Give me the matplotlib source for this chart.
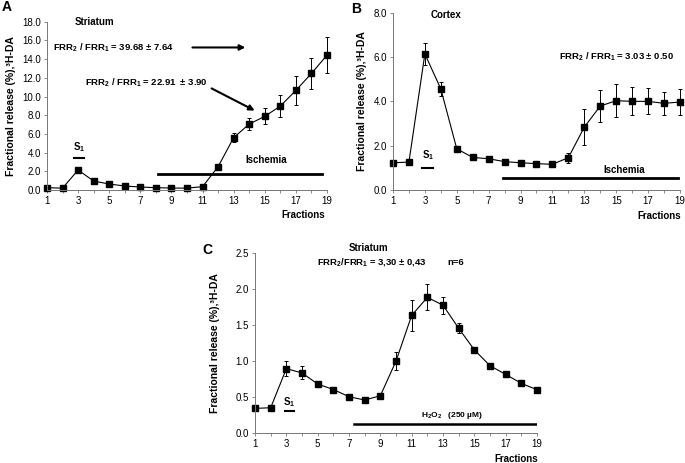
import matplotlib
matplotlib.use('Agg')
import matplotlib.pyplot as plt
import numpy as np

plt.rcParams['font.family'] = ['Liberation Sans', 'DejaVu Sans']
plt.rcParams['mathtext.fontset'] = 'custom'
plt.rcParams['mathtext.rm'] = 'Liberation Sans'
plt.rcParams['mathtext.bf'] = 'Liberation Sans:bold'
plt.rcParams['mathtext.it'] = 'Liberation Sans:italic'

fractions = np.arange(1, 20)

# Painel A - estriado, isquemia
a_mean = [0.25, 0.2, 2.14, 0.96, 0.64, 0.43, 0.32, 0.25, 0.21, 0.2, 0.36,
          2.5, 5.6, 7.06, 7.88, 8.98, 10.66, 12.47, 14.43]
a_err = [0.05, 0.05, 0.12, 0.08, 0.05, 0.04, 0.03, 0.03, 0.03, 0.03, 0.05,
         0.2, 0.5, 0.6, 0.85, 1.15, 1.55, 1.7, 1.95]

# Painel B - córtex, isquemia
b_mean = [1.23, 1.26, 6.14, 4.56, 1.86, 1.47, 1.41, 1.28, 1.23, 1.19, 1.16,
          1.46, 2.84, 3.79, 4.03, 4.0, 4.0, 3.91, 3.97]
b_err = [0.05, 0.05, 0.48, 0.33, 0.08, 0.06, 0.05, 0.05, 0.05, 0.05, 0.05,
         0.22, 0.8, 0.72, 0.74, 0.63, 0.59, 0.52, 0.57]

# Painel C - estriado, H2O2
c_mean = [0.338, 0.347, 0.89, 0.83, 0.676, 0.6, 0.5, 0.454, 0.514, 0.995, 1.63,
          1.88, 1.77, 1.45, 1.15, 0.93, 0.81, 0.685, 0.597]
c_err = [0.01, 0.01, 0.1, 0.09, 0.04, 0.03, 0.01, 0.01, 0.01, 0.12, 0.22,
         0.18, 0.12, 0.07, 0.03, 0.01, 0.01, 0.01, 0.01]

ylabel = 'Fractional release (%),³H-DA'
s1 = r'$\mathbf{S_1}$'

fig = plt.figure(figsize=(6.85, 4.63), dpi=100)
axA = fig.add_axes([0.0686, 0.5896, 0.4088, 0.3634])
axB = fig.add_axes([0.5737, 0.5896, 0.419, 0.383])
axC = fig.add_axes([0.3723, 0.0654, 0.4117, 0.3888])


def style(ax, mean, err, ymax, ystep, ylab_x):
    cont = ax.errorbar(fractions, mean, yerr=err, color='black', lw=0.8,
                       marker='s', markersize=4.3, capsize=1.6,
                       elinewidth=0.7, capthick=0.7)
    for art in cont.get_children():
        art.set_clip_on(False)
    ax.set_xlim(1, 19)
    ax.set_ylim(0, ymax)
    ax.set_xticks(fractions)
    ax.set_xticklabels([str(f) if f % 2 == 1 else '' for f in fractions])
    ax.set_yticks(np.arange(0, ymax + ystep / 2, ystep))
    ax.yaxis.set_major_formatter(matplotlib.ticker.FormatStrFormatter('%.1f'))
    for s in ['top', 'right']:
        ax.spines[s].set_visible(False)
    for s in ['left', 'bottom']:
        ax.spines[s].set_color('#777777')
        ax.spines[s].set_linewidth(0.7)
    ax.tick_params(labelsize=7, length=2.5, width=0.6, color='#777777',
                   pad=2)
    ax.set_ylabel(ylabel, fontsize=7.5, fontweight='bold')
    ax.yaxis.set_label_coords(ylab_x, 0.5)


style(axA, a_mean, a_err, 18, 2, -0.111)
style(axB, b_mean, b_err, 8, 2, -0.09)
style(axC, c_mean, c_err, 2.5, 0.5, -0.124)

# A
axA.plot([8.14, 18.68], [1.7, 1.7], color='black', lw=2)
axA.plot([2.76, 3.4], [3.39, 3.39], color='black', lw=1.5)
axA.text(3.08, 3.8, s1, fontsize=7, ha='center', va='bottom')
axA.text(15.1, 3.2, 'Ischemia', fontsize=7, fontweight='bold', ha='center', va='center')
axA.text(2.8, 18.0, 'Striatum', fontsize=7, fontweight='bold', ha='left', va='center')
axA.text(1.4, 15.25, r'FRR$_{\mathbf{2}}$ / FRR$_{\mathbf{1}}$ = 39.68 ± 7.64',
         fontsize=6.8, fontweight='bold', ha='left', va='center')
axA.annotate('', xy=(13.75, 15.25), xytext=(10.35, 15.25),
             arrowprops=dict(arrowstyle='-|>', lw=1.5, color='black',
                             mutation_scale=8, shrinkA=0, shrinkB=0))
axA.text(3.45, 11.5, r'FRR$_{\mathbf{2}}$ / FRR$_{\mathbf{1}}$ = 22.91  ± 3.90',
         fontsize=6.8, fontweight='bold', ha='left', va='center')
axA.annotate('', xy=(14.35, 8.5), xytext=(11.58, 10.87),
             arrowprops=dict(arrowstyle='-|>', lw=1.5, color='black',
                             mutation_scale=8, shrinkA=0, shrinkB=0))
axA.set_xlabel('Fractions', fontsize=7, fontweight='bold')
axA.xaxis.set_label_coords(0.914, -0.12)

# B
axB.plot([7.88, 18.9], [0.56, 0.56], color='black', lw=2)
axB.plot([2.85, 3.54], [1.0, 1.0], color='black', lw=1.5)
axB.text(3.2, 1.25, s1, fontsize=7, ha='center', va='bottom')
axB.text(15.5, 0.9, 'Ischemia', fontsize=7, fontweight='bold', ha='center', va='center')
axB.text(4.3, 7.88, 'Cortex', fontsize=7, fontweight='bold', ha='center', va='center')
axB.text(18.6, 6.0, r'FRR$_{\mathbf{2}}$ / FRR$_{\mathbf{1}}$ = 3.03 ± 0.50',
         fontsize=6.8, fontweight='bold', ha='right', va='center')
axB.set_xlabel('Fractions', fontsize=7, fontweight='bold')
axB.xaxis.set_label_coords(0.927, -0.12)

# C
axC.plot([7.33, 19.0], [0.116, 0.116], color='black', lw=1.8)
axC.plot([2.92, 3.49], [0.305, 0.305], color='black', lw=1.5)
axC.text(3.2, 0.33, s1, fontsize=7, ha='center', va='bottom')
axC.text(13.57, 0.236, r'H$_{\mathbf{2}}$O$_{\mathbf{2}}$   (250 µM)', fontsize=6,
         fontweight='bold', ha='center', va='center')
axC.text(8.25, 2.57, 'Striatum', fontsize=7, fontweight='bold', ha='center', va='center')
axC.text(8.45, 2.37, r'FRR$_{\mathbf{2}}$/FRR$_{\mathbf{1}}$ = 3,30 ± 0,43',
         fontsize=6.8, fontweight='bold', ha='center', va='center')
axC.text(13.8, 2.37, 'n=6', fontsize=6.8, fontweight='bold', ha='center', va='center')
axC.set_xlabel('Fractions', fontsize=7, fontweight='bold')
axC.xaxis.set_label_coords(0.925, -0.12)

# letras dos painéis
fig.text(7 / 685, 1 - 7 / 463, 'A', fontsize=10, fontweight='bold', ha='center', va='center')
fig.text(356 / 685, 1 - 9 / 463, 'B', fontsize=10, fontweight='bold', ha='center', va='center')
fig.text(207 / 685, 1 - 250 / 463, 'C', fontsize=10, fontweight='bold', ha='center', va='center')

fig.savefig('out.png', dpi=100)
